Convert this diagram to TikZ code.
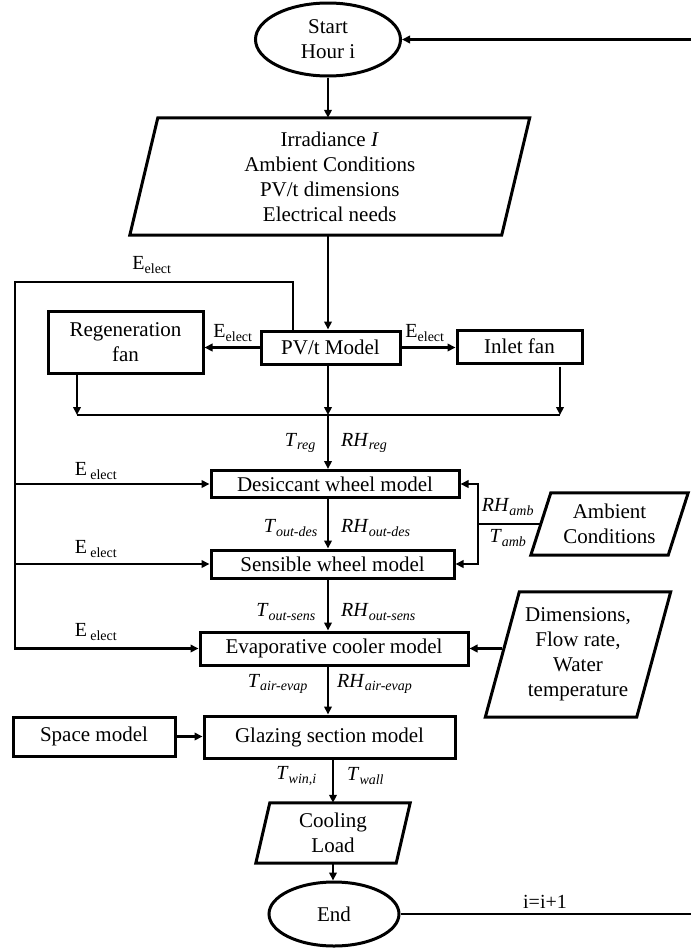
\documentclass[tikz,border=0pt]{standalone}
\usepackage{fontspec}
\setmainfont{Liberation Serif}
\usetikzlibrary{arrows.meta,calc,shapes.geometric}
\newcommand\vlab[2]{\textit{#1}\textsubscript{\textit{#2}}}
\newcommand\eel{E\textsubscript{elect}}
\newcommand\eels{E\,\textsubscript{elect}}
\newcommand\mainfs{\fontsize{21}{25}\selectfont}
\newcommand\labfs{\fontsize{20}{23}\selectfont}
\begin{document}
\begin{tikzpicture}[x=1pt,y=-1pt,
  box/.style={draw, line width=3pt, rectangle, inner sep=0pt, align=center, font=\mainfs},
  oval/.style={draw, line width=3pt, ellipse, inner sep=0pt, align=center, font=\mainfs},
  pbody/.style={rectangle, inner sep=0pt, align=center, font=\mainfs},
  pline/.style={line width=3pt, line join=miter},
  conn/.style={line width=2.2pt},
  arr/.style={conn, -{Triangle[length=8pt,width=7.5pt]}},
  lab/.style={inner sep=0pt, font=\labfs}]
\useasboundingbox (0,0) rectangle (691,948);

% nodes
\node[oval, minimum width=145, minimum height=73] (start) at (328,39.5) {Start\\Hour i};
\node[pbody, minimum width=371.5, minimum height=117] (inp) at (329.75,176.5)
  {Irradiance \textit{I}\\Ambient Conditions\\PV/t dimensions\\Electrical needs};
\node[box, minimum width=155, minimum height=62] (regen) at (125.5,342) {Regeneration\\fan};
\node[box, minimum width=139, minimum height=33] (pvt) at (330.5,347.5) {PV/t Model};
\node[box, minimum width=125, minimum height=33] (inlet) at (519.5,346.5) {Inlet fan};
\node[box, minimum width=248, minimum height=27] (desic) at (335,484) {Desiccant wheel model};
\node[box, minimum width=243, minimum height=28] (sens) at (332.5,564) {Sensible wheel model};
\node[box, minimum width=268, minimum height=33] (evap) at (334,648.5) {Evaporative cooler model};
\node[box, minimum width=251, minimum height=42] (glaz) at (329.5,737) {Glazing section model};
\node[box, minimum width=162, minimum height=39] (space) at (94,736.5) {Space model};
\node[pbody, minimum width=137, minimum height=62] (amb) at (609.5,524) {Ambient\\Conditions};
\node[pbody, minimum width=151, minimum height=125] (dims) at (578,654.5)
  {Dimensions,\\Flow rate,\\Water\\temperature};
\node[pbody, minimum width=140, minimum height=60] (cool) at (333,833) {Cooling\\Load};
\node[oval, minimum width=130, minimum height=64] (end) at (334,914) {End};

% parallelogram outlines
\foreach \n/\s in {inp/14,amb/10,dims/17,cool/7}
  \draw[pline] ($(\n.north west)+(\s,0)$) -- ($(\n.north east)+(\s,0)$)
    -- ($(\n.south east)+(-\s,0)$) -- ($(\n.south west)+(-\s,0)$) -- cycle;

% helper coordinates
\coordinate (ax) at (328,0);
\coordinate (ax2) at (333,0);
\coordinate (rin) at (691,39.5);
\coordinate (rout) at (691,916);
\coordinate (busL) at (77,415);
\coordinate (busM) at (328,415);
\coordinate (busR) at (560,415);
\coordinate (ftop) at (293,282);
\coordinate (fl) at (15,282);
\coordinate (aj) at (478,0);

% connectors
\draw[arr] (rin) -- (start.east);
\draw[arr] (start.south -| ax) -- (inp.north -| ax);
\draw[arr] (inp.south -| ax) -- (pvt.north -| ax);
\draw[arr] (pvt.west) -- (pvt.west -| regen.east);
\draw[arr] (pvt.east) -- (pvt.east -| inlet.west);
\draw[arr] (regen.south -| busL) -- (busL);
\draw[arr] (pvt.south -| busM) -- (busM);
\draw[arr] ($(inlet.south -| busR)+(0,2)$) -- (busR);
\draw[conn] (busL) -- (busR);
\draw[arr] (busM) -- (desic.north -| busM);
\draw[arr] (desic.south -| ax) -- (sens.north -| ax);
\draw[arr] (sens.south -| ax) -- (evap.north -| ax);
\draw[arr] (evap.south -| ax) -- (glaz.north -| ax);
\draw[arr] (glaz.south -| ax2) -- (cool.north -| ax2);
\draw[arr] (cool.south -| ax2) -- (end.north -| ax2);
\draw[conn] (end.east) -- (end.east -| rout);

\draw[arr] (pvt.north -| ftop) -- (ftop) -- (fl) |- (evap.west);
\draw[arr] (fl |- desic.west) -- (desic.west);
\draw[arr] (fl |- sens.west) -- (sens.west);

\draw[conn] (amb.west) -- (amb.west -| aj);
\draw[arr] (amb.west -| aj) |- (desic.east);
\draw[arr] (amb.west -| aj) |- (sens.east);
\draw[arr] (dims.west |- evap.east) -- (evap.east);
\draw[arr] (space.east) -- (space.east -| glaz.west);

% labels
\node[lab] (l1) at (152,265) {\eel};
\node[lab] (l2) at (233,333) {\eel};
\node[lab] (l3) at (425,333) {\eel};
\node[lab] (l4) at (96,471) {\eels};
\node[lab] (l5) at (96,549) {\eels};
\node[lab] (l6) at (96,632) {\eels};
\node[lab, anchor=east] (l7) at (316,443) {\vlab{T}{reg}};
\node[lab, anchor=west] (l8) at (341,443) {\vlab{RH}{reg}};
\node[lab, anchor=east] (l9) at (318,528) {\vlab{T}{out-des}};
\node[lab, anchor=west] (l10) at (341,528) {\vlab{RH}{out-des}};
\node[lab, anchor=east] (l11) at (316,612) {\vlab{T}{out-sens}};
\node[lab, anchor=west] (l12) at (341,612) {\vlab{RH}{out-sens}};
\node[lab, anchor=east] (l13) at (308,684) {\vlab{T}{air-evap}};
\node[lab, anchor=west] (l14) at (337,684) {\vlab{RH}{air-evap}};
\node[lab, anchor=east] (l15) at (317,776) {\vlab{T}{win,i}};
\node[lab, anchor=west] (l16) at (347,776) {\vlab{T}{wall}};
\node[lab] (l17) at (508,507) {\vlab{RH}{amb}};
\node[lab] (l18) at (508,538) {\vlab{T}{amb}};
\node[lab] (l19) at (545,902) {i=i+1};
\end{tikzpicture}
\end{document}
